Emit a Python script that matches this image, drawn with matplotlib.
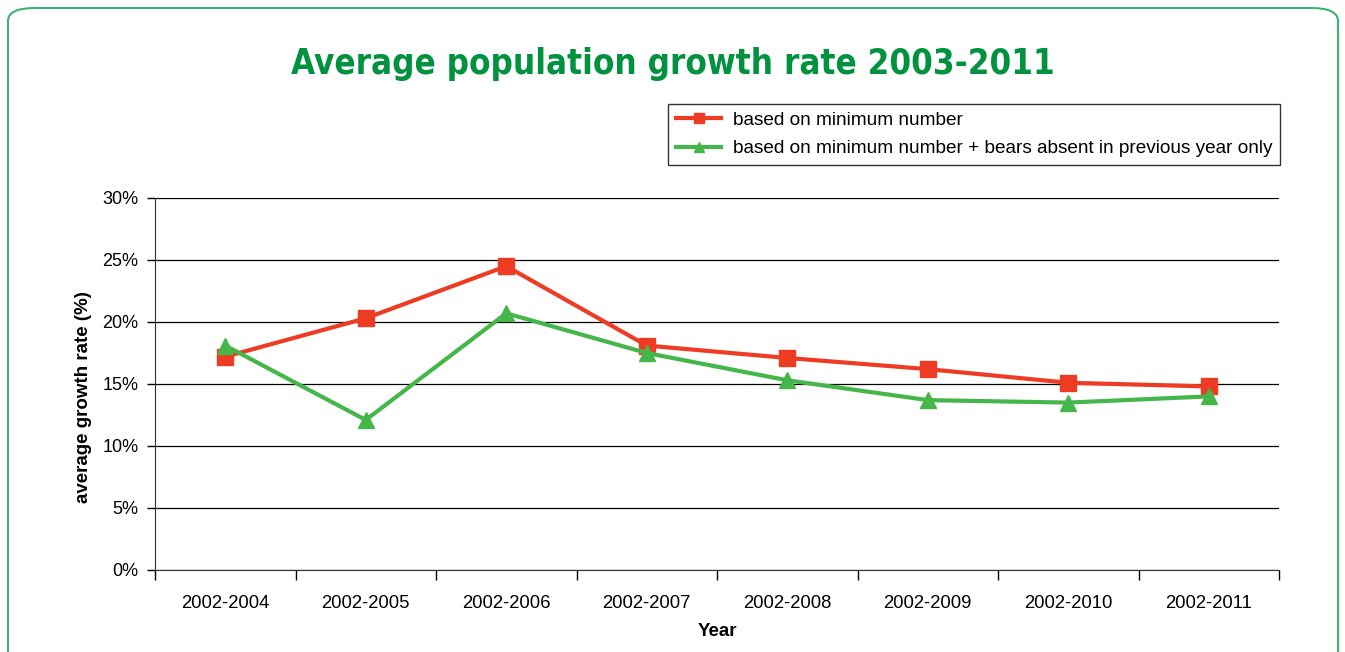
import matplotlib.pyplot as plt
from matplotlib.patches import FancyBboxPatch
from matplotlib.ticker import FuncFormatter

# data
periods = ["2002-2004", "2002-2005", "2002-2006", "2002-2007",
           "2002-2008", "2002-2009", "2002-2010", "2002-2011"]
min_number = [17.2, 20.3, 24.5, 18.1, 17.1, 16.2, 15.1, 14.8]
min_plus_absent = [18.1, 12.1, 20.7, 17.5, 15.3, 13.7, 13.5, 14.0]

plt.rcParams['font.family'] = ['Liberation Sans', 'DejaVu Sans']

fig = plt.figure(figsize=(13.45, 6.52), dpi=100)

# green rounded frame
frame = FancyBboxPatch((8 / 1345, -0.1), 1330 / 1345, 1 - 8 / 652 + 0.1,
                       boxstyle="round,pad=0,rounding_size=0.02",
                       transform=fig.transFigure, facecolor='none',
                       edgecolor='#3cb371', linewidth=1.5, zorder=0)
fig.patches.append(frame)

fig.text(0.5, 1 - 64 / 652, "Average population growth rate 2003-2011",
         ha='center', va='center', fontsize=25, fontweight='bold',
         fontstretch='condensed', color='#00923f', family=['DejaVu Sans'])

ax = fig.add_axes([155 / 1345, 1 - 570 / 652, 1124 / 1345, 372 / 652])
ax.set_facecolor('none')

x = list(range(len(periods)))
ax.plot(x, min_number, color='#ee3b24', lw=3, marker='s', ms=11,
        label='based on minimum number', zorder=3)
ax.plot(x, min_plus_absent, color='#45b649', lw=3, marker='^', ms=11,
        label='based on minimum number + bears absent in previous year only', zorder=3)

ax.set_xlim(-0.5, len(periods) - 0.5)
ax.set_ylim(0, 30)
ax.set_yticks(range(0, 31, 5))
ax.yaxis.set_major_formatter(FuncFormatter(lambda v, p: f"{v:.0f}%"))
ax.set_xticks(x)
ax.set_xticklabels(periods)
ax.set_xticks([i - 0.5 for i in range(len(periods) + 1)], minor=True)
ax.tick_params(axis='x', which='major', length=0, pad=18, labelsize=13.3)
ax.tick_params(axis='x', which='minor', length=7, width=1, direction='out')
ax.tick_params(axis='y', length=6, width=1, labelsize=13, pad=6)

ax.grid(axis='y', color='black', lw=0.9)
ax.set_axisbelow(True)
for s in ['top', 'right']:
    ax.spines[s].set_visible(False)
ax.spines['left'].set_color('#333333')
ax.spines['bottom'].set_color('#333333')

ax.set_xlabel("Year", fontsize=13.5, fontweight='bold', labelpad=8)
ax.set_ylabel("average growth rate (%)", fontsize=13.5, fontweight='bold')
ax.yaxis.set_label_coords(-0.056, 0.465)

leg = fig.legend(loc='upper right', bbox_to_anchor=(1280 / 1345, 1 - 104 / 652),
                 fontsize=13.7, frameon=True, fancybox=False, edgecolor='black',
                 handlelength=2.4, handletextpad=0.6, borderpad=0.4,
                 labelspacing=0.58, borderaxespad=0, markerscale=0.6)
leg.get_frame().set_linewidth(1)

fig.savefig("out.png", dpi=100)
